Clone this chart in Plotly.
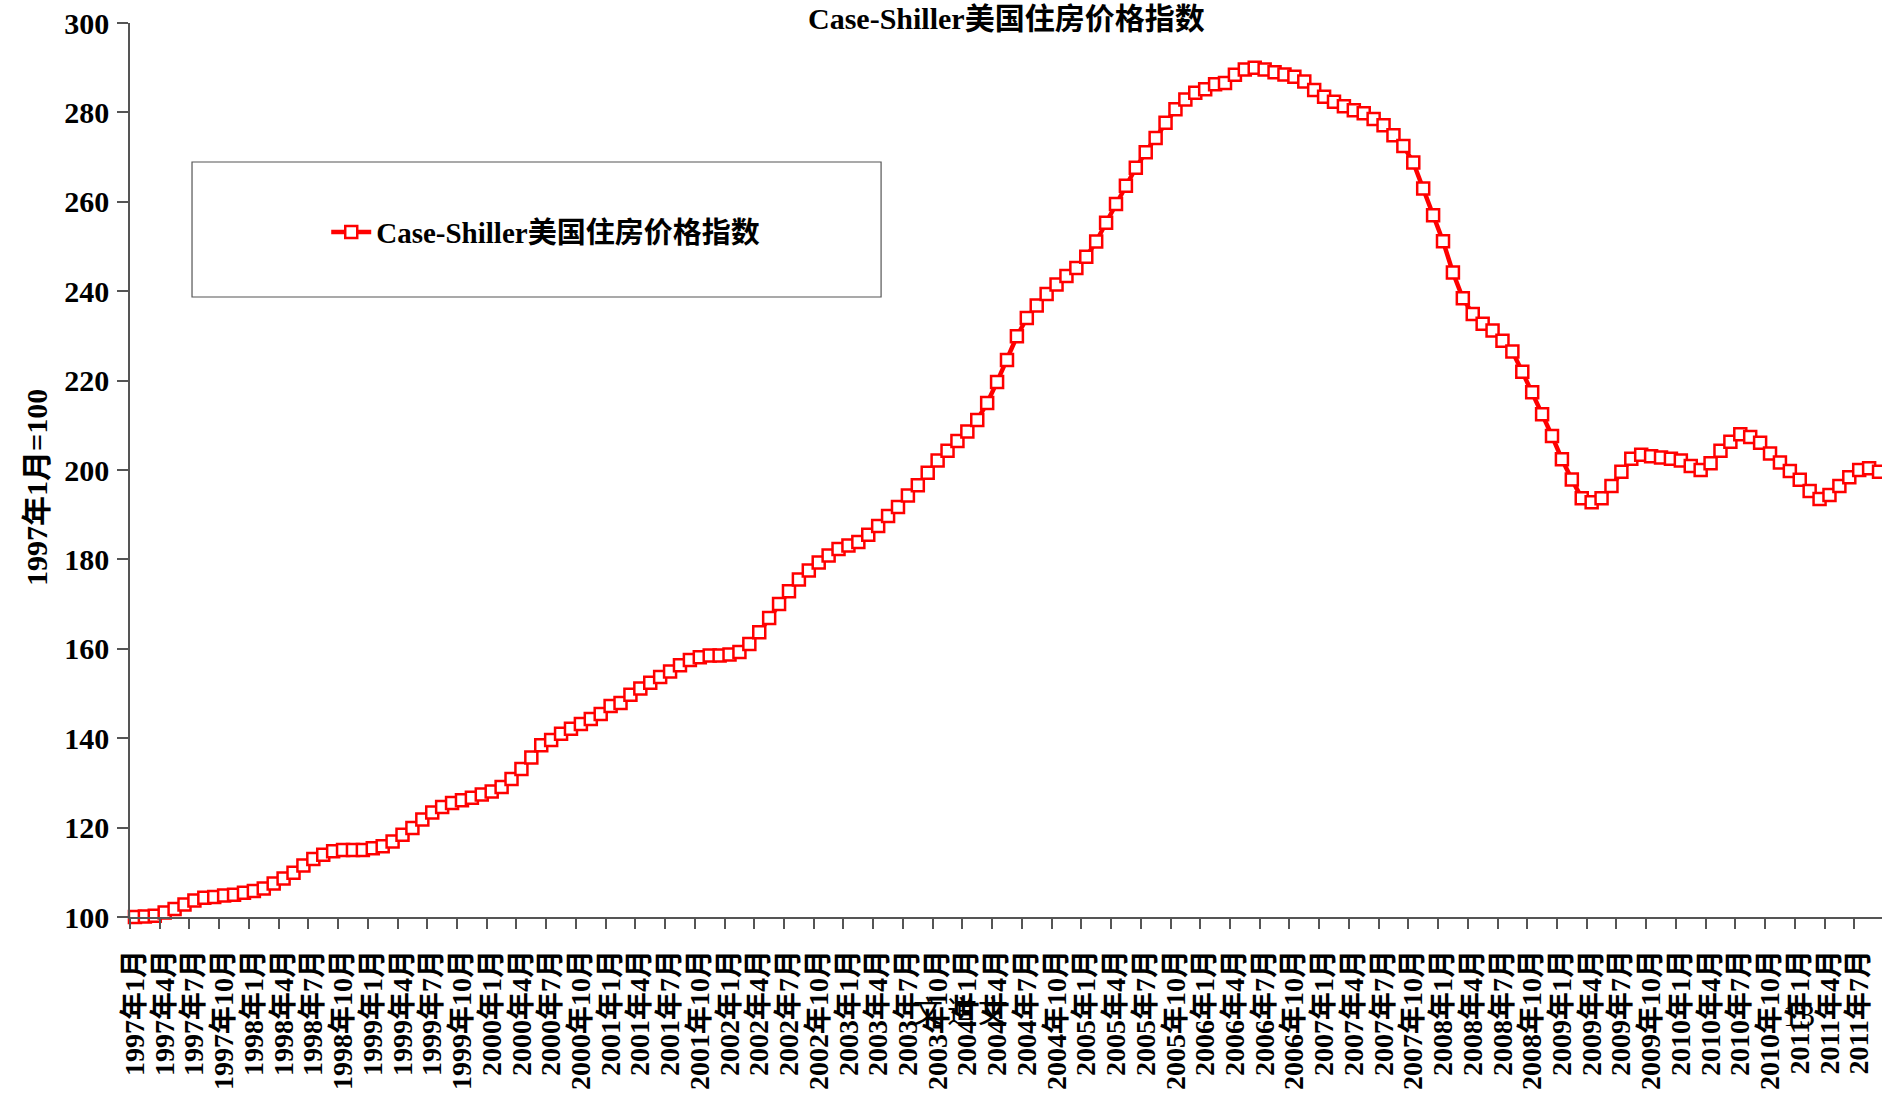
import plotly.graph_objects as go

# ---------------- data ----------------
categories = [f"{y}年{m}月" for y in range(1997, 2012) for m in range(1, 13)][:177]

values_1997 = [100.0, 100.1, 100.3, 101.0, 101.8, 102.8, 103.7, 104.3, 104.5, 104.8, 105.0, 105.4]
values_1998 = [105.8, 106.4, 107.5, 108.6, 109.9, 111.5, 113.0, 113.9, 114.7, 115.0, 115.0, 115.0]
values_1999 = [115.4, 115.8, 116.9, 118.4, 119.9, 121.8, 123.4, 124.6, 125.5, 126.1, 126.7, 127.4]
values_2000 = [128.1, 129.1, 130.9, 133.1, 135.7, 138.4, 139.6, 141.0, 142.1, 143.2, 144.3, 145.4]
values_2001 = [147.2, 147.9, 149.7, 151.1, 152.4, 153.7, 154.9, 156.3, 157.5, 158.1, 158.5, 158.5]
values_2002 = [158.7, 159.3, 161.1, 163.7, 166.9, 170.0, 172.9, 175.5, 177.5, 179.3, 180.9, 182.3]
values_2003 = [183.1, 183.9, 185.5, 187.5, 189.7, 191.7, 194.3, 196.6, 199.4, 202.1, 204.3, 206.5]
values_2004 = [208.6, 211.2, 215.0, 219.7, 224.6, 229.9, 234.0, 236.8, 239.4, 241.5, 243.4, 245.2]
values_2005 = [247.7, 251.1, 255.3, 259.5, 263.6, 267.6, 271.1, 274.3, 277.7, 280.7, 282.9, 284.4]
values_2006 = [285.2, 286.3, 286.6, 288.4, 289.6, 290.0, 289.6, 289.0, 288.5, 288.0, 286.9, 285.0]
values_2007 = [283.5, 282.4, 281.4, 280.5, 279.8, 278.5, 277.1, 274.9, 272.5, 268.8, 263.0, 257.0]
values_2008 = [251.2, 244.2, 238.4, 234.9, 232.7, 231.2, 228.9, 226.5, 222.0, 217.4, 212.5, 207.6]
values_2009 = [202.4, 197.9, 193.7, 192.8, 193.7, 196.4, 199.6, 202.5, 203.4, 203.1, 202.8, 202.5]
values_2010 = [202.1, 200.9, 200.0, 201.5, 204.3, 206.3, 208.0, 207.4, 206.1, 203.7, 201.7, 199.8]
values_2011 = [197.8, 195.3, 193.5, 194.4, 196.4, 198.4, 200.0, 200.4, 199.6]

index_values = (values_1997 + values_1998 + values_1999 + values_2000 + values_2001
                + values_2002 + values_2003 + values_2004 + values_2005 + values_2006
                + values_2007 + values_2008 + values_2009 + values_2010 + values_2011)

series_name = "Case-Shiller美国住房价格指数"
y_title = "1997年1月=100"

# ---------------- style ----------------
FONT = "'Liberation Serif', 'Noto Sans CJK SC', serif"
RED = "#FF0000"
AXIS = "#555555"

fig = go.Figure()
fig.add_trace(go.Scatter(
    x=categories, y=index_values, name=series_name,
    mode="lines+markers",
    line=dict(color=RED, width=4.5),
    marker=dict(symbol="square", size=12, color="white",
                line=dict(color=RED, width=2.5)),
    cliponaxis=False,
))

fig.update_layout(
    width=1882, height=1098,
    margin=dict(l=130, r=0, t=23, b=181),
    paper_bgcolor="white", plot_bgcolor="white",
    font=dict(family=FONT, color="black"),
    showlegend=True,
    legend=dict(x=0.112, y=0.766, xanchor="left", yanchor="middle",
                bgcolor="rgba(0,0,0,0)", borderwidth=0,
                font=dict(family=FONT, size=29, color="black", weight="bold"),
                itemwidth=40),
    xaxis=dict(type="category", range=[-0.5, 176.3],
               tickmode="linear", tick0=0, dtick=3, tickson="boundaries",
               ticks="outside", ticklen=10, tickwidth=1.5, tickcolor=AXIS,
               showline=True, linecolor=AXIS, linewidth=1.5,
               showgrid=False, zeroline=False, tickangle=-90,
               ticklabelstandoff=20,
               tickfont=dict(family=FONT, size=28, color="black", weight="bold")),
    yaxis=dict(range=[100, 300], tickmode="linear", tick0=100, dtick=20,
               ticks="outside", ticklen=11, tickwidth=1.5, tickcolor=AXIS,
               showline=True, linecolor=AXIS, linewidth=1.5,
               showgrid=False, zeroline=False, ticklabelstandoff=2,
               tickfont=dict(family=FONT, size=30, color="black", weight="bold")),
    shapes=[dict(type="rect", xref="paper", yref="paper",
                 x0=0.0354, x1=0.4287, y0=0.6935, y1=0.8445,
                 line=dict(color=AXIS, width=1.2), fillcolor="rgba(0,0,0,0)",
                 layer="below")],
    annotations=[
        dict(text=series_name, xref="paper", yref="paper", x=0.5, y=1.0257,
             xanchor="center", yanchor="top", showarrow=False,
             font=dict(family=FONT, size=30, color="black", weight="bold")),
        dict(text=y_title, xref="paper", yref="paper", x=-0.0531, y=0.481,
             xanchor="center", yanchor="middle", textangle=-90, showarrow=False,
             font=dict(family=FONT, size=30, color="black", weight="bold")),
        dict(text="文", xref="paper", yref="paper", x=0.4555, y=-0.106,
             xanchor="center", yanchor="middle",
             showarrow=False, font=dict(family=FONT, size=30, color="black")),
        dict(text="道", xref="paper", yref="paper", x=0.4749, y=-0.106,
             xanchor="center", yanchor="middle",
             showarrow=False, font=dict(family=FONT, size=30, color="black")),
        dict(text="文", xref="paper", yref="paper", x=0.4926, y=-0.106,
             xanchor="center", yanchor="middle",
             showarrow=False, font=dict(family=FONT, size=30, color="black")),
        dict(text="13", xref="paper", yref="paper", x=0.9526, y=-0.110,
             xanchor="center", yanchor="middle",
             showarrow=False, font=dict(family=FONT, size=32, color="black")),
    ],
)

fig.write_html("out.html", config={"displayModeBar": False},
               post_script="document.body.style.margin='0';")
